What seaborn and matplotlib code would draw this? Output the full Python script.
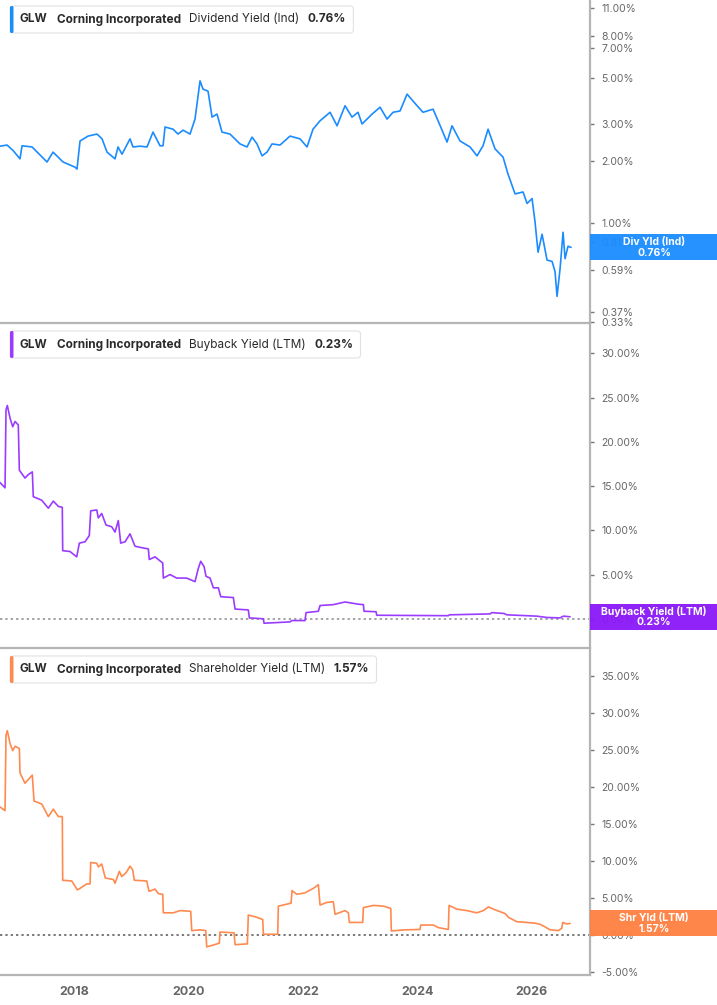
import matplotlib
matplotlib.use('Agg')
import matplotlib.pyplot as plt
import seaborn as sns
from matplotlib.patches import Rectangle, FancyBboxPatch
from matplotlib.ticker import FixedLocator, FuncFormatter, NullLocator
from matplotlib.transforms import Affine2D

# --- dividend yield (Ind), % ---
div_years = [2016.706, 2016.829, 2016.934, 2017.056, 2017.091, 2017.266, 2017.528, 2017.633, 2017.808,
             2018.017, 2018.052, 2018.105, 2018.245, 2018.402, 2018.490, 2018.577, 2018.717, 2018.769,
             2018.839, 2018.979, 2019.031, 2019.154, 2019.276, 2019.381, 2019.503, 2019.556, 2019.591,
             2019.731, 2019.818, 2019.906, 2020.028, 2020.115, 2020.203, 2020.255, 2020.343, 2020.413,
             2020.500, 2020.587, 2020.727, 2020.902, 2021.024, 2021.112, 2021.199, 2021.287, 2021.374,
             2021.462, 2021.601, 2021.776, 2021.951, 2022.073, 2022.178, 2022.301, 2022.476, 2022.598,
             2022.738, 2022.860, 2022.965, 2023.035, 2023.210, 2023.350, 2023.472, 2023.577, 2023.699,
             2023.822, 2023.997, 2024.101, 2024.276, 2024.364, 2024.521, 2024.608, 2024.748, 2024.923,
             2025.045, 2025.150, 2025.238, 2025.360, 2025.500, 2025.587, 2025.710, 2025.850, 2025.920,
             2026.007, 2026.059, 2026.112, 2026.182, 2026.269, 2026.357, 2026.409, 2026.444, 2026.497,
             2026.549, 2026.584, 2026.636, 2026.689]
div_vals = [2.35, 2.38, 2.24, 2.04, 2.36, 2.33, 1.97, 2.20, 1.97,
            1.86, 1.82, 2.49, 2.63, 2.69, 2.55, 2.20, 2.04, 2.33,
            2.15, 2.55, 2.33, 2.35, 2.33, 2.75, 2.36, 2.36, 2.91,
            2.84, 2.69, 2.81, 2.69, 3.18, 4.87, 4.44, 4.34, 3.25,
            3.36, 2.75, 2.69, 2.41, 2.33, 2.60, 2.41, 2.11, 2.20,
            2.41, 2.38, 2.63, 2.55, 2.33, 2.84, 3.12, 3.43, 2.95,
            3.69, 3.25, 3.43, 3.01, 3.36, 3.63, 3.18, 3.43, 3.48,
            4.20, 3.69, 3.43, 3.55, 3.12, 2.46, 2.95, 2.49, 2.33,
            2.11, 2.36, 2.84, 2.28, 2.08, 1.72, 1.38, 1.41, 1.24,
            1.31, 1.01, 0.72, 0.88, 0.66, 0.65, 0.58, 0.44, 0.60,
            0.90, 0.67, 0.77, 0.76]

# --- buyback yield (LTM), % ---
bb_years = [2016.706, 2016.794, 2016.811, 2016.834, 2016.881, 2016.928, 2016.969, 2017.026, 2017.044,
            2017.143, 2017.201, 2017.271, 2017.288, 2017.435, 2017.551, 2017.638, 2017.726, 2017.795,
            2017.802, 2017.930, 2018.047, 2018.093, 2018.192, 2018.267, 2018.292, 2018.397, 2018.425,
            2018.484, 2018.559, 2018.659, 2018.717, 2018.774, 2018.816, 2018.892, 2018.979, 2019.066,
            2019.211, 2019.299, 2019.316, 2019.416, 2019.551, 2019.561, 2019.678, 2019.795, 2019.970,
            2020.115, 2020.173, 2020.215, 2020.273, 2020.308, 2020.378, 2020.436, 2020.523, 2020.565,
            2020.785, 2020.815, 2021.047, 2021.065, 2021.310, 2021.322, 2021.776, 2021.806, 2022.038,
            2022.056, 2022.271, 2022.301, 2022.533, 2022.738, 2022.970, 2023.058, 2023.070, 2023.280,
            2023.292, 2024.544, 2024.562, 2025.273, 2025.303, 2025.518, 2025.565, 2026.089, 2026.264,
            2026.497, 2026.554, 2026.671]
bb_vals = [15.4, 14.8, 23.6, 24.1, 22.7, 21.7, 22.3, 21.9, 16.8,
           15.9, 16.3, 16.6, 13.8, 13.4, 12.5, 13.3, 12.7, 12.6,
           7.7, 7.6, 7.0, 8.55, 8.7, 9.4, 12.2, 12.3, 11.4,
           11.9, 10.6, 10.4, 9.8, 11.1, 8.55, 8.7, 9.6, 8.2,
           8.0, 7.9, 6.7, 7.0, 6.3, 4.6, 5.0, 4.6, 4.6,
           4.2, 5.7, 6.5, 5.9, 4.8, 4.6, 3.5, 3.5, 2.5,
           2.4, 1.1, 1.0, 0.1, 0.0, -0.5, -0.35, -0.2, -0.2,
           0.7, 0.85, 1.5, 1.6, 1.9, 1.65, 1.6, 0.85, 0.8,
           0.4, 0.35, 0.45, 0.55, 0.7, 0.6, 0.45, 0.3, 0.15,
           0.1, 0.3, 0.23]

# --- shareholder yield (LTM), % ---
shr_years = [2016.706, 2016.794, 2016.811, 2016.834, 2016.881, 2016.928, 2016.969, 2017.044, 2017.056,
             2017.143, 2017.201, 2017.271, 2017.301, 2017.435, 2017.551, 2017.638, 2017.726, 2017.795,
             2017.802, 2017.960, 2018.058, 2018.105, 2018.222, 2018.280, 2018.292, 2018.397, 2018.425,
             2018.484, 2018.547, 2018.687, 2018.717, 2018.792, 2018.834, 2018.909, 2018.979, 2019.026,
             2019.054, 2019.271, 2019.311, 2019.416, 2019.474, 2019.551, 2019.561, 2019.736, 2019.853,
             2020.040, 2020.058, 2020.203, 2020.303, 2020.320, 2020.436, 2020.540, 2020.552, 2020.797,
             2020.815, 2021.030, 2021.047, 2021.194, 2021.299, 2021.310, 2021.561, 2021.572, 2021.794,
             2021.811, 2021.894, 2022.038, 2022.184, 2022.271, 2022.301, 2022.418, 2022.533, 2022.563,
             2022.738, 2022.796, 2022.813, 2023.047, 2023.058, 2023.233, 2023.408, 2023.537, 2023.547,
             2023.787, 2024.049, 2024.061, 2024.282, 2024.369, 2024.544, 2024.556, 2024.691, 2024.865,
             2025.040, 2025.156, 2025.243, 2025.330, 2025.535, 2025.593, 2025.740, 2025.914, 2026.059,
             2026.147, 2026.234, 2026.322, 2026.467, 2026.526, 2026.544, 2026.614, 2026.671]
shr_vals = [17.3, 16.8, 27.0, 27.6, 25.9, 24.9, 25.5, 25.2, 21.9,
            20.5, 21.0, 21.6, 18.1, 17.7, 16.0, 17.0, 16.0, 16.0,
            7.4, 7.3, 6.1, 6.3, 6.9, 6.9, 9.8, 9.7, 9.2,
            9.6, 7.7, 7.5, 7.0, 8.6, 7.9, 8.4, 9.3, 8.8,
            7.4, 7.3, 5.9, 6.2, 5.6, 5.5, 3.0, 3.0, 3.3,
            3.2, 0.6, 0.7, 0.6, -1.6, -1.35, -1.1, 0.4, 0.3,
            -1.3, -1.2, 2.7, 2.4, 2.1, 0.1, 0.1, 3.9, 4.3,
            6.0, 5.5, 5.7, 6.3, 6.8, 4.05, 4.4, 4.5, 2.8,
            3.3, 3.0, 1.7, 1.7, 3.7, 4.0, 3.9, 3.6, 0.55,
            0.7, 0.75, 1.35, 1.35, 1.0, 0.75, 4.0, 3.5, 3.3,
            3.0, 3.3, 3.8, 3.5, 2.9, 2.4, 1.8, 1.7, 1.6,
            1.45, 1.1, 0.7, 0.6, 0.9, 1.7, 1.5, 1.57]

div_ticks = [0.33, 0.37, 0.59, 0.81, 1, 2, 3, 5, 7, 8, 11]
bb_ticks = [0, 5, 10, 15, 20, 25, 30]
shr_ticks = [-5, 0, 5, 10, 15, 20, 25, 30, 35]
year_ticks = [2018, 2020, 2022, 2024, 2026]

panels = [
    ('Dividend Yield (Ind)', 'Div Yld (Ind)', div_years, div_vals, '#1a8cff', '#1a8cff'),
    ('Buyback Yield (LTM)', 'Buyback Yield (LTM)', bb_years, bb_vals, '#9a3cff', '#8a17f7'),
    ('Shareholder Yield (LTM)', 'Shr Yld (LTM)', shr_years, shr_vals, '#ff8a4f', '#ff8040'),
]

sns.set_theme(style='white')
plt.rcParams['font.family'] = ['Inter', 'DejaVu Sans']

W, H = 717, 1005
AX_RIGHT = 590
fig = plt.figure(figsize=(W / 100, H / 100), dpi=100)
# pixel coords, origin at top-left
pix = Affine2D().scale(1 / W, -1 / H).translate(0, 1) + fig.transFigure

tops_bottoms = [(0, 323), (325, 648), (650, 975)]
axes = []
for top, bottom in tops_bottoms:
    ax = fig.add_axes([0, 1 - bottom / H, AX_RIGHT / W, (bottom - top) / H])
    axes.append(ax)

ylims = [(0.327, 12.0), (-3.3, 33.2), (-5.4, 38.5)]
yticks = [div_ticks, bb_ticks, shr_ticks]
x_left = 2016.706
x_right = 2027.02

renderer = fig.canvas.get_renderer()

for i, (ax, (name, short, xs, ys, lc, tagc)) in enumerate(zip(axes, panels)):
    sns.lineplot(x=xs, y=ys, ax=ax, color=lc, linewidth=1.2, estimator=None)
    if i == 0:
        ax.set_yscale('log')
    ax.set_xlim(x_left, x_right)
    ax.set_ylim(*ylims[i])
    ax.yaxis.set_major_locator(FixedLocator(yticks[i]))
    ax.yaxis.set_minor_locator(NullLocator())
    ax.yaxis.set_major_formatter(FuncFormatter(lambda v, p: f'{v:.2f}%'))
    ax.yaxis.tick_right()
    ax.tick_params(axis='y', direction='out', length=3, width=1, color='#777777',
                   labelsize=7.5, labelcolor='#666666', pad=5)
    for s in ['left', 'top']:
        ax.spines[s].set_visible(False)
    for s in ['right', 'bottom']:
        ax.spines[s].set_color('#b5b5b5')
        ax.spines[s].set_linewidth(1.6)
    ax.set_xlabel('')
    ax.set_ylabel('')
    ax.grid(False)

    if i > 0:
        ax.axhline(0, color='#8a8a8a' if i == 1 else '#555555',
                   linestyle=(0, (1.5, 2)), linewidth=1.1, zorder=1)

    if i < 2:
        ax.set_xticks([])
    else:
        ax.set_xticks(year_ticks)
        ax.set_xticklabels([str(y) for y in year_ticks])
        ax.tick_params(axis='x', direction='out', length=4, width=1, color='#999999',
                       labelsize=9, labelcolor='#666666', pad=4)
        for lab in ax.get_xticklabels():
            lab.set_fontweight('bold')

    # title box at top-left
    top = tops_bottoms[i][0]
    yc = top + 19.5
    pieces = [('GLW', 'bold', 9), ('Corning Incorporated', 'bold', 8.5),
              (name, 'normal', 8.5), (f'{ys[-1]:.2f}%', 'bold', 8.5)]
    xpos = 20
    for txt, wt, gap in pieces:
        t = fig.text(xpos, yc, txt, transform=pix, fontsize=8.5, fontweight=wt,
                     color='#2a2a2a', va='center', ha='left', zorder=5)
        bb = t.get_window_extent(renderer=renderer)
        xpos += bb.width + gap
    box_w = xpos - 8.5 + 7 - 10
    fig.add_artist(FancyBboxPatch((10, top + 6), box_w, 27,
                                  boxstyle='round,pad=0,rounding_size=3', transform=pix,
                                  facecolor='white', edgecolor='#e2e2e2', linewidth=0.8, zorder=3))
    fig.add_artist(FancyBboxPatch((10, top + 6), 3.5, 27,
                                  boxstyle='round,pad=0,rounding_size=1.5', transform=pix,
                                  facecolor=lc, edgecolor='none', zorder=4))

    # last value tag on the right axis
    disp = ax.transData.transform((x_right, ys[-1]))
    yf = fig.transFigure.inverted().transform(disp)[1]
    fig.add_artist(Rectangle((AX_RIGHT / W, yf - 13 / H), (W - AX_RIGHT) / W, 26 / H,
                             transform=fig.transFigure, facecolor=tagc, alpha=0.95,
                             edgecolor='none', zorder=6))
    fig.text((AX_RIGHT + 64) / W, yf, f'{short}\n{ys[-1]:.2f}%', transform=fig.transFigure,
             ha='center', va='center', color='white', fontsize=7.5, fontweight='bold',
             linespacing=1.05, zorder=7)

fig.savefig('out.png', dpi=100)
